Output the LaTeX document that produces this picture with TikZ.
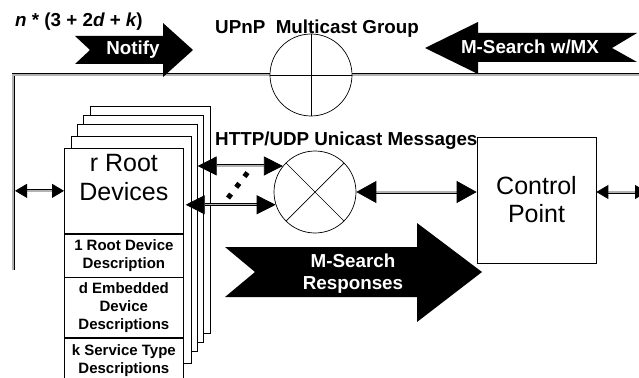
\documentclass[tikz,border=0pt]{standalone}
\usepackage{fontspec}
\setmainfont{Liberation Sans}
\usetikzlibrary{arrows.meta,positioning,calc}

\begin{document}
\begin{tikzpicture}[
  x=1pt, y=-1pt,
  every node/.style={inner sep=0pt},
  page/.style={
    draw, fill=white, line width=0.7pt, anchor=north west,
    minimum width=120pt, minimum height=227pt
  },
  sect/.style={
    draw, fill=white, line width=0.7pt, align=center,
    minimum width=119pt, font=\bfseries\fontsize{15}{18}\selectfont
  },
  bigtxt/.style={align=center, font=\fontsize{25}{29}\selectfont},
  lbl/.style={font=\bfseries\fontsize{18.8}{22}\selectfont},
  arrowtxt/.style={lbl, text=white, align=center},
  hub/.style={circle, draw, fill=white, line width=0.7pt, minimum size=82pt},
  bus/.style={draw, line width=0.8pt, double=gray!60, double distance=1.4pt},
  tipsmall/.style={bus, {Triangle[length=12pt,width=14pt]}-{Triangle[length=12pt,width=14pt]}},
  tipmid/.style={bus, {Triangle[length=19pt,width=19pt]}-{Triangle[length=19pt,width=19pt]}},
  tipbig/.style={bus, {Triangle[length=20pt,width=22pt]}-{Triangle[length=20pt,width=22pt]}},
  dots/.style={line width=5pt, dash pattern=on 5pt off 8.5pt}
]
  \useasboundingbox (0,0) rectangle (639,377);

  % Multicast bus
  \coordinate (corner) at (13,75);
  \coordinate (vend) at (13,270);
  \coordinate (rightend) at (645,75);
  \draw[bus, line join=miter] (vend) -- (corner) -- (rightend);

  \node[hub] (mc) at (311,75) {};
  \draw[line width=0.7pt] (mc.north) -- (mc.south) (mc.west) -- (mc.east);
  \node[lbl, anchor=base west] (mclbl) at (215,34) {UPnP\ \ Multicast Group};
  \node[lbl, anchor=base west] (count) at (15,27)
    {{\itshape n} * (3 + 2{\itshape d} + {\itshape k})};

  % Notify / M-Search block arrows
  \fill (75,36) -- (90,50) -- (75,64) -- (163,64) -- (163,77) -- (193,50)
    -- (163,23) -- (163,36) -- cycle;
  \node[arrowtxt] (notify) at (133,50) {Notify};
  \fill (637,33) -- (612,48) -- (637,62) -- (478,62) -- (478,74) -- (425,48)
    -- (478,22) -- (478,33) -- cycle;
  \node[arrowtxt] (msearch) at (530,47) {M-Search w/MX};

  % Stack of root devices
  \node[page] (pg1) at (90,106) {};
  \node[page] (pg2) at (83,115) {};
  \node[page] (pg3) at (77,124) {};
  \node[page] (pg4) at (71,136) {};
  \node[sect, minimum height=85pt, anchor=north west] (rootdev) at (64,148) {};
  \node[bigtxt, below=6pt of rootdev.north] (rootlbl) {r Root\\Devices};
  \node[sect, minimum height=43pt, below=0pt of rootdev] (rootdesc) {1 Root Device\\Description};
  \node[sect, minimum height=60pt, below=0pt of rootdesc] (embdesc) {d Embedded\\Device\\Descriptions};
  \node[sect, minimum height=44pt, below=0pt of embdesc] (svcdesc) {k Service Type\\Descriptions};

  \draw[tipsmall] ([xshift=2pt]rootdev.west -| corner) -- (rootdev.west);

  % Unicast
  \node[hub] (uc) at (315,192) {};
  \draw[line width=0.7pt] (uc.north west) -- (uc.south east) (uc.north east) -- (uc.south west);
  \node[lbl, anchor=base west] (uclbl) at (215,145) {HTTP/UDP Unicast Messages};

  \draw[tipmid] (pg3.east |- uc.141) -- (uc.141);
  \draw[tipmid] ([xshift=2pt]rootdev.east |- uc.198) -- (uc.198);
  \coordinate (dotA) at (228,198);
  \coordinate (dotB) at (248,172);
  \draw[dots] (dotA) -- (dotB);

  % Control point
  \node[draw, line width=0.7pt, minimum width=119pt, minimum height=126pt,
    bigtxt, font=\fontsize{25}{28}\selectfont] (cp) at (536.5,200) {Control\\Point};
  \draw[tipbig] (uc.east) -- (uc.east -| cp.west);
  \coordinate (offright) at (647,192);
  \draw[tipsmall] (cp.east |- uc.east) -- (offright);

  % M-Search responses
  \fill (225,247) -- (255,272) -- (225,297) -- (417,297) -- (417,322) -- (482,272)
    -- (417,223) -- (417,247) -- cycle;
  \node[arrowtxt] (mresp) at (353,274) {M-Search\\Responses};
\end{tikzpicture}
\end{document}
